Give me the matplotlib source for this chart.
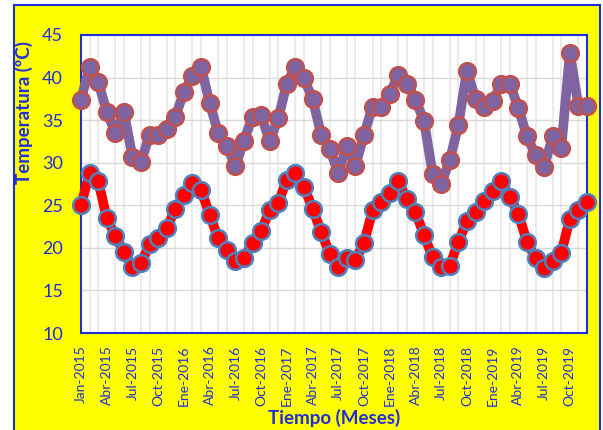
import matplotlib
matplotlib.use("Agg")
from matplotlib import pyplot as plt
from matplotlib.patches import Rectangle
import numpy as np

plt.rcParams['font.family'] = ['Lato', 'DejaVu Sans']

# monthly temperatures, Jan-2015 .. Dec-2019
t_max = [37.4, 41.3, 39.5, 36.0, 33.5, 36.0, 30.7, 30.1, 33.3, 33.3, 34.0, 35.4,
         38.3, 40.2, 41.3, 37.0, 33.5, 32.0, 29.6, 32.6, 35.4, 35.6, 32.5, 35.2,
         39.3, 41.3, 39.9, 37.5, 33.3, 31.6, 28.8, 32.0, 29.6, 33.3, 36.6, 36.6,
         38.1, 40.3, 39.3, 37.4, 34.9, 28.7, 27.5, 30.3, 34.4, 40.8, 37.5, 36.6,
         37.2, 39.3, 39.3, 36.4, 33.1, 30.9, 29.5, 33.1, 31.7, 42.9, 36.7, 36.7]
t_min = [25.0, 28.8, 27.9, 23.5, 21.4, 19.5, 17.7, 18.2, 20.4, 21.2, 22.3, 24.6,
         26.2, 27.6, 26.8, 23.9, 21.1, 19.7, 18.4, 18.8, 20.6, 22.0, 24.4, 25.3,
         28.0, 28.8, 27.2, 24.6, 21.9, 19.3, 17.8, 18.8, 18.6, 20.6, 24.4, 25.4,
         26.5, 27.8, 25.7, 24.2, 21.5, 18.9, 17.7, 17.9, 20.7, 23.1, 24.2, 25.5,
         26.7, 27.8, 26.0, 24.0, 20.7, 18.8, 17.6, 18.5, 19.4, 23.4, 24.4, 25.4]
tick_labels = ["Jan-2015", "Abr-2015", "Jul-2015", "Oct-2015",
               "Ene-2016", "Abr-2016", "Jul-2016", "Oct-2016",
               "Ene-2017", "Abr-2017", "Jul-2017", "Oct-2017",
               "Ene-2018", "Abr-2018", "Jul-2018", "Oct-2018",
               "Ene-2019", "Abr-2019", "Jul-2019", "Oct-2019"]

blue = "#1F2FD8"
months = np.arange(len(t_max))

fig = plt.figure(figsize=(6.03, 4.30), dpi=100)
fig.patch.set_facecolor("white")
fig.patches.append(Rectangle((14 / 603, -0.02), 586 / 603, 1 - 5 / 430 + 0.02,
                             transform=fig.transFigure, facecolor="#FFFF00",
                             edgecolor=blue, linewidth=1.5, zorder=-10))

ax = fig.add_axes([81 / 603, 97 / 430, 506 / 603, 298 / 430])
ax.set_facecolor("white")

ax.plot(months, t_max, color="#8064A2", linewidth=7, marker="o", markersize=12,
        markerfacecolor="#8064A2", markeredgecolor="#C0504D", markeredgewidth=1.8,
        clip_on=False, zorder=3)
ax.plot(months, t_min, color="#FF0000", linewidth=7, marker="o", markersize=12,
        markerfacecolor="#FF0000", markeredgecolor="#4F81BD", markeredgewidth=1.8,
        clip_on=False, zorder=3)

ax.set_xlim(0, len(t_max) - 1)
ax.set_ylim(10, 45)
ax.set_yticks(range(10, 46, 5))
ax.set_xticks(months[::3])
ax.set_xticklabels(tick_labels, rotation=90)
ax.set_xticks(months, minor=True)

ax.grid(True, which="major", axis="y", color="#D9D9D9", linewidth=1)
ax.grid(True, which="minor", axis="x", color="#EBEBEB", linewidth=1.5)
ax.set_axisbelow(True)

ax.tick_params(axis="both", which="both", length=0)
ax.tick_params(axis="y", labelsize=13, labelcolor=blue, pad=13)
ax.tick_params(axis="x", labelsize=10, labelcolor=blue, pad=9)

for s in ax.spines.values():
    s.set_color(blue)
    s.set_linewidth(1.5)

ax.set_ylabel("Temperatura (ºC)", fontsize=13.5, fontweight="bold", color=blue)
ax.yaxis.set_label_coords(-0.095, 0.74)
ax.set_xlabel("Tiempo (Meses)", fontsize=13.5, fontweight="bold", color=blue)
ax.xaxis.set_label_coords(0.5, -0.255)

fig.savefig("out.png", dpi=100)
